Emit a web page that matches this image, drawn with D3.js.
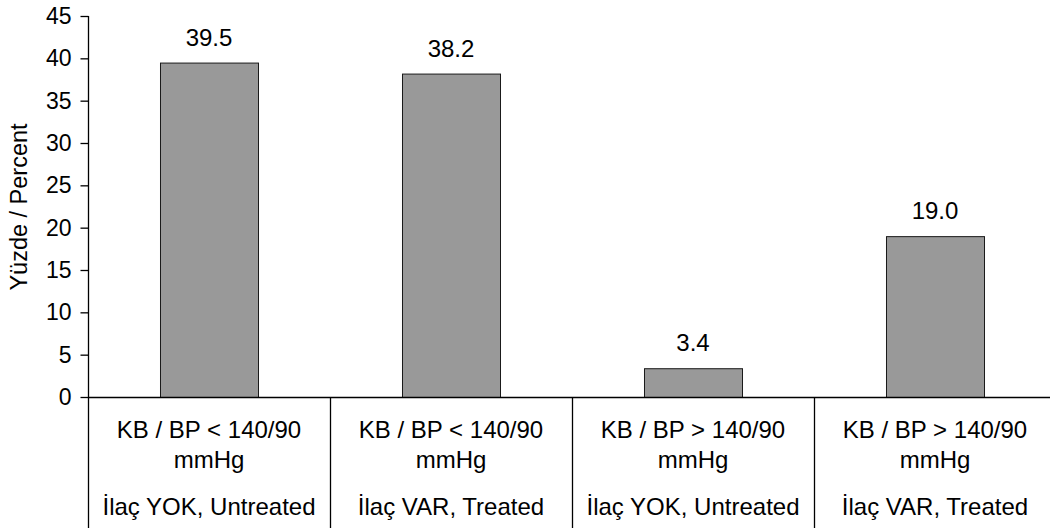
<!DOCTYPE html>
<html>
<head>
<meta charset="utf-8">
<script src="https://cdn.jsdelivr.net/npm/d3@7"></script>
<style>
  html, body { margin: 0; padding: 0; background: #fff; }
  svg { display: block; }
  text { font-family: "Liberation Sans", Arial, sans-serif; fill: #000; }
</style>
</head>
<body>
<svg id="chart" width="1050" height="528"></svg>
<script>
// Blood pressure control groups
const categories = ["c1", "c2", "c3", "c4"];
const labelLine1 = ["KB / BP < 140/90", "KB / BP < 140/90", "KB / BP > 140/90", "KB / BP > 140/90"];
const labelLine2 = ["mmHg", "mmHg", "mmHg", "mmHg"];
const labelLine3 = ["İlaç YOK, Untreated", "İlaç VAR, Treated", "İlaç YOK, Untreated", "İlaç VAR, Treated"];
const values = [39.5, 38.2, 3.4, 19.0];
const yTicks = [0, 5, 10, 15, 20, 25, 30, 35, 40, 45];
const yTitle = "Yüzde / Percent";

const svg = d3.select("#chart");
const plotLeft = 88, plotRight = 1056, plotTop = 16, plotBase = 397, plotBottom = 528;
const fsLabel = 24, fsTick = 23, fsTitle = 23.5;

const y = d3.scaleLinear().domain([0, 45]).range([plotBase, plotTop]);
const x = d3.scaleBand().domain(categories).range([plotLeft, plotRight])
  .paddingInner(0.595).paddingOuter(0.2975);
const cell = d3.scaleBand().domain(categories).range([plotLeft, plotRight]).padding(0);

// bars
svg.append("g").selectAll("rect").data(values).join("rect")
  .attr("x", (d, i) => x(categories[i]) + 0.5)
  .attr("y", d => y(d) + 0.5)
  .attr("width", x.bandwidth())
  .attr("height", d => plotBase - y(d))
  .attr("fill", "#999999")
  .attr("stroke", "#1a1a1a")
  .attr("stroke-width", 1);

// value labels
svg.append("g").selectAll("text").data(values).join("text")
  .attr("x", (d, i) => x(categories[i]) + x.bandwidth() / 2)
  .attr("y", d => y(d) - 17)
  .attr("text-anchor", "middle")
  .style("font-size", fsLabel + "px")
  .text(d => d.toFixed(1));

// y axis
const yAxis = svg.append("g")
  .attr("transform", `translate(${plotLeft + 0.5},0)`)
  .call(d3.axisLeft(y).tickValues(yTicks).tickSize(8).tickPadding(9).tickSizeOuter(0));
yAxis.select(".domain").remove();
yAxis.selectAll("line").attr("stroke", "#000").attr("stroke-width", 1.3);
yAxis.selectAll("text").style("font-size", fsTick + "px")
  .style("font-family", "'Liberation Sans', Arial, sans-serif");
yAxis.append("line")
  .attr("x1", 0).attr("x2", 0).attr("y1", plotTop).attr("y2", plotBottom)
  .attr("stroke", "#000").attr("stroke-width", 1.3);

// category axis line and separators
svg.append("line")
  .attr("x1", plotLeft).attr("x2", 1050)
  .attr("y1", plotBase + 0.5).attr("y2", plotBase + 0.5)
  .attr("stroke", "#000").attr("stroke-width", 1.3);
svg.append("g").selectAll("line").data(categories.slice(1)).join("line")
  .attr("x1", d => cell(d) + 0.5).attr("x2", d => cell(d) + 0.5)
  .attr("y1", plotBase).attr("y2", plotBottom)
  .attr("stroke", "#000").attr("stroke-width", 1.3);

// category labels
const lab = svg.append("g").selectAll("g").data(categories).join("g")
  .attr("transform", d => `translate(${cell(d) + cell.bandwidth() / 2},0)`)
  .attr("text-anchor", "middle")
  .style("font-size", fsLabel + "px");
lab.append("text").attr("y", 438).text((d, i) => labelLine1[i]);
lab.append("text").attr("y", 468).text((d, i) => labelLine2[i]);
lab.append("text").attr("y", 515).text((d, i) => labelLine3[i]);

// y axis title
svg.append("text")
  .attr("transform", "translate(27,207) rotate(-90)")
  .attr("text-anchor", "middle")
  .style("font-size", fsTitle + "px")
  .text(yTitle);
</script>
</body>
</html>
